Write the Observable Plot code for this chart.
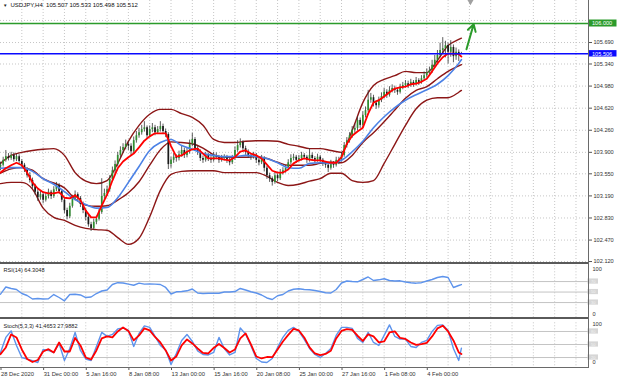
<!DOCTYPE html>
<html><head><meta charset="utf-8">
<script src="https://cdn.jsdelivr.net/npm/d3@7"></script>
<script src="https://cdn.jsdelivr.net/npm/@observablehq/plot@0.6"></script>
<style>
body{margin:0;background:#fff;}
#chart{position:relative;width:620px;height:382px;overflow:hidden;background:#fff;}
#chart svg{position:absolute;left:0;}
.chrome{position:absolute;}
</style></head><body><div id="chart"></div>
<script>
// ---------- DATA ----------
const symbol = "USDJPY,H4";
const ohlcNow = [105.507, 105.533, 105.498, 105.512];
const rsiNow = 64.3048;
const stochNow = [41.4653, 27.9882];
const hLevels = [106.000, 105.506];
const priceTicks = [102.12, 102.47, 102.83, 103.19, 103.55, 103.90, 104.26, 104.62, 104.98, 105.34, 105.69, 106.05];
const priceLabelTicks = [102.12, 102.47, 102.83, 103.19, 103.55, 103.90, 104.26, 104.62, 104.98, 105.34, 105.69];
const tickBars = [0, 16, 32, 48, 64, 80, 96, 112, 128, 144, 160];
const tickLabels = ["28 Dec 2020", "31 Dec 00:00", "5 Jan 16:00", "8 Jan 08:00", "13 Jan 00:00", "15 Jan 16:00", "20 Jan 08:00", "25 Jan 00:00", "27 Jan 16:00", "1 Feb 08:00", "4 Feb 00:00"];
const rsiLevels = [70, 50, 30];
const stochLevels = [80, 50, 20];
const arrowPts = {x1: 174.9, y1: 105.58, x2: 177.6, y2: 105.99};
const shiftBar = 176.4;

const open = [103.66,103.69,103.77,103.83,103.80,103.85,103.78,103.83,103.75,103.69,
103.62,103.52,103.44,103.34,103.25,103.16,103.21,103.12,103.18,103.25,
103.18,103.29,103.36,103.26,103.12,102.95,102.85,103.02,103.15,103.21,
103.15,103.05,102.95,102.84,102.72,102.66,102.76,102.81,102.92,103.18,
103.23,103.29,103.46,103.60,103.70,103.85,103.93,103.98,104.03,104.00,
103.91,104.09,104.17,104.22,104.27,104.30,104.17,104.27,104.30,104.22,
104.27,104.32,104.24,104.19,103.70,103.77,103.82,103.80,103.86,103.93,
103.85,103.91,104.03,104.11,103.96,103.90,103.80,103.77,103.85,103.80,
103.77,103.85,103.82,103.77,103.80,103.82,103.77,103.73,103.80,103.93,
104.01,104.06,103.96,103.90,103.85,103.82,103.85,103.77,103.73,103.80,
103.64,103.52,103.47,103.41,103.52,103.47,103.57,103.60,103.64,103.73,
103.80,103.82,103.77,103.80,103.85,103.82,103.77,103.85,103.80,103.77,
103.82,103.77,103.72,103.69,103.64,103.72,103.69,103.77,103.77,103.85,
104.01,104.09,104.17,104.26,104.29,104.42,104.34,104.50,104.58,104.75,
104.79,104.70,104.66,104.75,104.81,104.88,104.83,104.91,104.94,104.91,
104.88,104.96,104.99,105.02,104.99,105.04,105.01,105.07,105.04,105.10,
105.15,105.20,105.23,105.32,105.40,105.48,105.56,105.59,105.64,105.53,
105.61,105.46,105.53,105.51];
const high = [103.74,103.82,103.93,103.88,103.90,103.89,103.87,103.86,103.78,103.72,
103.65,103.57,103.48,103.38,103.29,103.27,103.25,103.24,103.30,103.28,
103.34,103.41,103.39,103.29,103.15,102.99,103.07,103.20,103.27,103.24,
103.18,103.09,102.98,102.88,102.76,102.81,102.86,102.97,103.47,103.30,
103.35,103.52,103.66,103.76,103.90,103.99,104.04,104.10,104.08,104.04,
104.15,104.24,104.29,104.34,104.40,104.33,104.33,104.37,104.34,104.32,
104.40,104.36,104.28,104.22,103.82,103.88,103.86,103.92,104.00,103.97,
103.97,104.10,104.21,104.14,104.00,103.94,103.84,103.90,103.88,103.84,
103.90,103.89,103.85,103.85,103.86,103.85,103.80,103.85,103.99,104.09,
104.12,104.09,104.00,103.94,103.88,103.90,103.88,103.80,103.85,103.83,
103.67,103.56,103.50,103.57,103.55,103.62,103.65,103.69,103.78,103.86,
103.87,103.85,103.85,103.90,103.88,103.85,103.96,103.89,103.83,103.87,
103.85,103.80,103.75,103.72,103.77,103.75,103.82,103.82,103.90,104.06,
104.14,104.22,104.32,104.36,104.48,104.46,104.56,104.64,104.91,104.86,
104.83,104.74,104.80,104.87,104.94,104.92,104.97,105.00,104.98,104.95,
105.01,105.04,105.07,105.06,105.09,105.07,105.12,105.10,105.15,105.21,
105.26,105.29,105.40,105.48,105.56,105.68,105.77,105.71,105.68,105.72,
105.65,105.60,105.57,105.53];
const low = [103.60,103.66,103.74,103.76,103.77,103.74,103.75,103.71,103.64,103.57,
103.48,103.40,103.30,103.20,103.10,103.12,103.06,103.09,103.14,103.13,
103.15,103.26,103.22,103.08,102.90,102.80,102.82,102.99,103.11,103.10,
103.00,102.90,102.78,102.68,102.61,102.63,102.72,102.78,102.89,103.12,
103.18,103.25,103.42,103.55,103.66,103.81,103.88,103.94,103.93,103.84,
103.88,104.05,104.13,104.18,104.23,104.12,104.14,104.22,104.17,104.19,
104.23,104.19,104.14,103.62,103.64,103.72,103.74,103.76,103.82,103.80,
103.81,103.87,103.99,103.92,103.85,103.75,103.72,103.74,103.75,103.72,
103.74,103.78,103.72,103.74,103.76,103.72,103.68,103.70,103.77,103.90,
103.97,103.92,103.85,103.80,103.77,103.79,103.72,103.68,103.70,103.58,
103.46,103.41,103.35,103.38,103.42,103.44,103.53,103.56,103.61,103.70,
103.76,103.72,103.74,103.76,103.78,103.72,103.74,103.75,103.72,103.74,
103.72,103.67,103.64,103.57,103.61,103.64,103.66,103.70,103.74,103.82,
103.97,104.05,104.13,104.21,104.25,104.29,104.30,104.46,104.55,104.70,
104.64,104.60,104.62,104.71,104.77,104.78,104.80,104.87,104.86,104.83,
104.85,104.92,104.95,104.94,104.96,104.96,104.98,104.99,105.01,105.06,
105.11,105.16,105.19,105.28,105.36,105.44,105.50,105.44,105.34,105.45,
105.36,105.40,105.38,105.50];
const close = [103.69,103.77,103.83,103.80,103.85,103.78,103.83,103.75,103.69,103.62,
103.52,103.44,103.34,103.25,103.16,103.21,103.12,103.18,103.25,103.18,
103.29,103.36,103.26,103.12,102.95,102.85,103.02,103.15,103.21,103.15,
103.05,102.95,102.84,102.72,102.66,102.76,102.81,102.92,103.18,103.23,
103.29,103.46,103.60,103.70,103.85,103.93,103.98,104.03,104.00,103.91,
104.09,104.17,104.22,104.27,104.30,104.17,104.27,104.30,104.22,104.27,
104.32,104.24,104.19,103.70,103.77,103.82,103.80,103.86,103.93,103.85,
103.91,104.03,104.11,103.96,103.90,103.80,103.77,103.85,103.80,103.77,
103.85,103.82,103.77,103.80,103.82,103.77,103.73,103.80,103.93,104.01,
104.06,103.96,103.90,103.85,103.82,103.85,103.77,103.73,103.80,103.64,
103.52,103.47,103.41,103.52,103.47,103.57,103.60,103.64,103.73,103.80,
103.82,103.77,103.80,103.85,103.82,103.77,103.85,103.80,103.77,103.82,
103.77,103.72,103.69,103.64,103.72,103.69,103.77,103.77,103.85,104.01,
104.09,104.17,104.26,104.29,104.42,104.34,104.50,104.58,104.75,104.79,
104.70,104.66,104.75,104.81,104.88,104.83,104.91,104.94,104.91,104.88,
104.96,104.99,105.02,104.99,105.04,105.01,105.07,105.04,105.10,105.15,
105.20,105.23,105.32,105.40,105.48,105.56,105.59,105.64,105.53,105.61,
105.46,105.53,105.51,105.51];

// fast MA (red), RSI and Stochastic sampled every 2 bars
const oscIdx = [0,2,4,6,8,10,12,14,16,18,20,22,24,26,28,30,32,34,36,38,40,42,44,46,48,50,52,54,56,58,60,62,64,66,68,70,72,74,76,78,80,82,84,86,88,90,92,94,96,98,100,102,104,106,108,110,112,114,116,118,120,122,124,126,128,130,132,134,136,138,140,142,144,146,148,150,152,154,156,158,160,162,164,166,168,170,172,173];
const redMA = [103.57,103.64,103.69,103.73,103.69,103.57,103.41,103.31,103.25,103.23,
103.23,103.25,103.16,103.15,103.20,103.12,102.95,102.84,102.84,103.03,
103.21,103.44,103.64,103.75,103.82,103.88,103.98,104.09,104.16,104.21,
104.21,104.21,104.00,103.83,103.85,103.91,103.95,103.96,103.88,103.80,
103.80,103.80,103.78,103.77,103.82,103.91,103.93,103.88,103.85,103.80,
103.70,103.60,103.57,103.57,103.62,103.72,103.77,103.80,103.78,103.77,
103.77,103.75,103.73,103.73,103.82,104.04,104.17,104.24,104.30,104.53,
104.71,104.75,104.81,104.88,104.94,104.96,104.97,105.01,105.02,105.05,
105.10,105.22,105.35,105.45,105.51,105.51,105.50,105.46];
const rsi = [45.9,59.6,56.8,54.9,47.2,43.4,36.8,37.7,36.8,37.1,
45.3,39.6,33.3,45.3,45.9,44.4,39.6,40.6,47.2,52.0,
53.9,64.4,67.8,67.2,65.0,63.0,66.9,65.0,65.3,65.0,
64.4,58.7,46.3,50.5,51.0,52.4,55.8,48.2,47.2,47.8,
47.8,47.8,50.1,50.1,51.0,56.8,53.9,50.5,48.2,44.4,
38.7,35.8,42.9,45.3,52.0,55.4,56.2,54.9,54.3,53.0,
51.0,48.6,48.2,54.9,67.2,71.0,70.1,69.5,73.9,78.7,
72.0,73.3,75.4,72.0,71.0,71.4,69.1,67.6,66.9,67.8,
71.0,73.9,77.7,79.6,77.7,58.7,62.5,64.3];
const stochMain = [31.6,66.3,81.3,47.8,20.1,16.2,12.5,8.5,38.6,36.3,
31.6,52.4,13.2,40.9,77.8,36.3,16.6,13.2,45.5,77.8,
68.6,73.2,85.9,88.2,82.4,45.5,75.5,92.8,89.4,68.6,
47.8,37.4,3.9,29.3,59.4,73.2,57.0,35.1,27.0,25.9,
31.6,66.3,40.9,25.9,31.6,88.2,73.9,47.1,17.8,9.7,
8.5,17.8,43.2,66.3,82.4,89.4,80.1,61.7,40.9,27.0,
20.1,29.3,40.9,70.9,89.4,89.4,87.1,64.0,54.7,77.8,
54.7,47.8,70.9,95.2,68.6,62.4,62.4,45.5,43.2,54.7,
59.4,80.1,94.0,95.2,82.4,40.9,13.2,41.47];
const stochSignal = [27.7,43.2,73.2,66.3,38.6,16.6,9.7,14.3,33.9,39.3,
31.6,54.7,33.9,33.9,65.1,47.8,20.1,15.5,36.3,64.0,
68.6,66.3,80.1,89.4,81.3,59.4,70.9,87.1,82.4,67.4,
54.7,36.3,13.2,22.4,47.8,61.7,52.4,40.9,30.5,29.3,
42.0,51.3,42.0,31.6,38.6,64.0,75.5,50.1,22.4,17.8,
21.2,20.8,38.6,57.0,72.1,85.9,82.4,66.3,43.2,29.3,
25.4,28.2,35.6,64.0,81.3,85.5,83.6,70.2,58.2,73.2,
68.6,54.7,57.0,77.8,80.1,65.1,62.8,54.7,49.0,50.8,
53.6,68.6,87.1,93.3,80.1,59.4,31.6,27.99];

// slower MA (blue) and Bollinger bands sampled every 4 bars
const bandIdx = [0,4,8,12,16,20,24,28,32,36,40,44,48,52,56,60,64,68,72,76,80,84,88,92,96,100,104,108,112,116,120,124,128,132,136,140,144,148,152,156,160,164,168,172,173];
const blueMA = [103.64,103.65,103.65,103.59,103.47,103.38,103.26,103.13,103.05,102.99,
103.00,103.16,103.41,103.67,103.93,104.06,104.11,104.01,103.95,103.88,
103.85,103.83,103.83,103.85,103.83,103.80,103.73,103.65,103.64,103.72,
103.73,103.72,103.77,103.91,104.08,104.30,104.48,104.63,104.75,104.84,
104.92,105.01,105.15,105.35,105.41];
const bbUpper = [103.72,103.85,103.90,103.93,103.95,103.96,103.85,103.57,103.43,103.39,
103.44,103.72,104.08,104.34,104.52,104.60,104.60,104.53,104.47,104.34,
104.11,104.06,104.06,104.08,104.09,104.09,104.08,104.03,104.00,103.96,
103.96,103.93,103.90,104.26,104.71,104.99,105.09,105.15,105.22,105.20,
105.20,105.40,105.64,105.74,105.76];
const bbMiddle = [103.56,103.63,103.65,103.61,103.47,103.40,103.32,103.14,103.04,103.02,
103.03,103.12,103.24,103.42,103.69,103.94,104.07,104.06,104.04,103.97,
103.86,103.82,103.82,103.82,103.83,103.80,103.74,103.69,103.69,103.69,
103.72,103.74,103.73,103.85,104.06,104.22,104.40,104.59,104.78,104.91,
104.97,105.10,105.22,105.31,105.33];
const bbLower = [103.39,103.41,103.41,103.30,102.99,102.84,102.79,102.71,102.66,102.64,
102.63,102.51,102.40,102.50,102.85,103.28,103.54,103.59,103.60,103.60,
103.60,103.57,103.57,103.57,103.57,103.51,103.41,103.36,103.38,103.43,
103.47,103.56,103.56,103.44,103.41,103.44,103.72,104.03,104.34,104.61,
104.75,104.79,104.79,104.88,104.91];

// ---------- BUILD ----------
const FONT = "'Liberation Sans', Arial, sans-serif";
const X_DOMAIN = [0, 220.7];
const X_END = X_DOMAIN[1];
const GRID = {stroke: "#c6c6c6", strokeOpacity: 1, strokeDasharray: "1,2", strokeWidth: 1};
const gridBars = d3.range(8, 220, 8);
const GREEN = "#2b9b2b", BLUE = "#0a0aff", DARKRED = "#8c1616", MA_BLUE = "#4c82e6", OSC_BLUE = "#5d93ec";
const f3 = d3.format(".3f");

const bars = close.map((c, i) => ({i, o: open[i], h: high[i], l: low[i], c}));
const redData = oscIdx.map((i, k) => ({i, v: redMA[k]}));
const bandData = bandIdx.map((i, k) => ({i, up: bbUpper[k], mid: bbMiddle[k], lo: bbLower[k], blue: blueMA[k]}));
const oscData = oscIdx.map((i, k) => ({i, rsi: rsi[k], k: stochMain[k], d: stochSignal[k]}));
const titleText = symbol + "  " + ohlcNow.map(f3).join(" ");
const labelOf = new Map(tickBars.map((b, k) => [b, tickLabels[k]]));

const baseStyle = {fontFamily: FONT, fontSize: "5.5px", background: "none", overflow: "visible", color: "#222"};

const mainPlot = Plot.plot({
  width: 620, height: 263, marginTop: 0, marginBottom: 0, marginLeft: 0, marginRight: 32,
  style: baseStyle,
  x: {domain: X_DOMAIN, axis: null},
  y: {domain: [102.088, 106.375], axis: null},
  marks: [
    Plot.gridX(gridBars, GRID),
    Plot.gridY(priceTicks, GRID),
    Plot.axisY(priceLabelTicks, {anchor: "right", label: null, tickFormat: f3, tickSize: 3, tickPadding: 2, fontSize: 5.6, fill: "#333", stroke: "#555"}),
    Plot.line(bandData, {x: "i", y: "up", stroke: DARKRED, strokeWidth: 1.4, curve: "monotone-x"}),
    Plot.line(bandData, {x: "i", y: "lo", stroke: DARKRED, strokeWidth: 1.4, curve: "monotone-x"}),
    Plot.line(bandData, {x: "i", y: "mid", stroke: DARKRED, strokeWidth: 1.4, curve: "monotone-x"}),
    Plot.ruleX(bars, {x: "i", y1: "l", y2: "h", stroke: "#333", strokeWidth: 0.8}),
    Plot.ruleX(bars, {filter: d => d.c >= d.o, x: "i", y1: "o", y2: "c", stroke: "#2f8f2f", strokeWidth: 1.7}),
    Plot.ruleX(bars, {filter: d => d.c < d.o, x: "i", y1: "o", y2: "c", stroke: "#1a1a1a", strokeWidth: 1.7}),
    Plot.line(bandData, {x: "i", y: "blue", stroke: MA_BLUE, strokeWidth: 1.6, curve: "monotone-x"}),
    Plot.line(redData, {x: "i", y: "v", stroke: "#ff0000", strokeWidth: 1.8}),
    Plot.ruleY([hLevels[0]], {stroke: GREEN, strokeWidth: 1.4}),
    Plot.ruleY([hLevels[1]], {stroke: BLUE, strokeWidth: 1.4}),
    Plot.rect([hLevels[0]], {x1: () => X_END, x2: () => X_END, y1: d => d, y2: d => d, insetLeft: 0.5, insetRight: -28.5, insetTop: -3.5, insetBottom: -3.5, fill: GREEN}),
    Plot.rect([hLevels[1]], {x1: () => X_END, x2: () => X_END, y1: d => d, y2: d => d, insetLeft: 0.5, insetRight: -28.5, insetTop: -3.2, insetBottom: -3.2, fill: BLUE}),
    Plot.text(hLevels, {x: () => X_END, y: d => d, text: d => f3(d), dx: 3.5, textAnchor: "start", fill: "white", fontSize: 5.6}),
    Plot.arrow([arrowPts], {x1: "x1", y1: "y1", x2: "x2", y2: "y2", stroke: GREEN, strokeWidth: 2, headLength: 6}),
    Plot.dot([shiftBar], {x: d => d, frameAnchor: "top", symbol: "triangle", rotate: 180, r: 2.4, fill: "#a0a0a0", stroke: "none", dy: 1}),
    Plot.text(["\u25BC"], {text: d => d, frameAnchor: "top-left", dx: 2.5, dy: 3, lineAnchor: "top", textAnchor: "start", fontSize: 4.5, fill: "#222"}),
    Plot.text([titleText], {text: d => d, frameAnchor: "top-left", dx: 10, dy: 2.4, lineAnchor: "top", textAnchor: "start", fontSize: 6, fill: "#111"})
  ]
});

const rsiPlot = Plot.plot({
  width: 620, height: 55, marginTop: 2.3, marginBottom: 0.2, marginLeft: 0, marginRight: 32,
  style: baseStyle,
  x: {domain: X_DOMAIN, axis: null},
  y: {domain: [0, 100], axis: null},
  marks: [
    Plot.gridX(gridBars, GRID),
    Plot.ruleY(rsiLevels, {stroke: "#c4c4c4", strokeWidth: 1}),
    Plot.line(oscData, {x: "i", y: "rsi", stroke: OSC_BLUE, strokeWidth: 1.4}),
    Plot.text(["RSI(14) " + rsiNow.toFixed(4)], {text: d => d, frameAnchor: "top-left", dx: 3, dy: 1.8, lineAnchor: "top", textAnchor: "start", fontSize: 5.6, fill: "#222"}),
    Plot.text([100], {x: () => X_END, y: d => d, text: d => String(d), dx: 4, dy: 3.4, textAnchor: "start", fontSize: 5.6, fill: "#333"}),
    Plot.text([0], {x: () => X_END, y: d => d, text: d => String(d), dx: 4, dy: -4.5, textAnchor: "start", fontSize: 5.6, fill: "#333"}),
    Plot.rect(rsiLevels, {x1: () => X_END, x2: () => X_END, y1: d => d, y2: d => d, insetLeft: -0.5, insetRight: -10, insetTop: -2.6, insetBottom: -2.6, fill: "#d6d6d6"}),
    Plot.text(rsiLevels, {x: () => X_END, y: d => d, text: d => String(d), dx: 2.5, textAnchor: "start", fontSize: 4, fill: "#f2f2f2"})
  ]
});

const stochPlot = Plot.plot({
  width: 620, height: 64, marginTop: 4.3, marginBottom: 15, marginLeft: 0, marginRight: 32,
  style: baseStyle,
  x: {domain: X_DOMAIN, axis: null},
  y: {domain: [-3, 100], axis: null},
  marks: [
    Plot.gridX(gridBars, GRID),
    Plot.ruleY(stochLevels, {stroke: "#c4c4c4", strokeWidth: 1}),
    Plot.line(oscData, {x: "i", y: "k", stroke: OSC_BLUE, strokeWidth: 1.4}),
    Plot.line(oscData, {x: "i", y: "d", stroke: "#ff0000", strokeWidth: 1.8}),
    Plot.text(["Stoch(5,3,3) " + stochNow.map(v => v.toFixed(4)).join(" ")], {text: d => d, frameAnchor: "top-left", dx: 3, dy: 0.8, lineAnchor: "top", textAnchor: "start", fontSize: 5.6, fill: "#222"}),
    Plot.text([100], {x: () => X_END, y: d => d, text: d => String(d), dx: 4, dy: 1.4, textAnchor: "start", fontSize: 5.6, fill: "#333"}),
    Plot.text([0], {x: () => X_END, y: d => d, text: d => String(d), dx: 4, dy: -3.7, textAnchor: "start", fontSize: 5.6, fill: "#333"}),
    Plot.rect(stochLevels, {x1: () => X_END, x2: () => X_END, y1: d => d, y2: d => d, insetLeft: -0.5, insetRight: -10, insetTop: -2.6, insetBottom: -2.6, fill: "#d6d6d6"}),
    Plot.text(stochLevels, {x: () => X_END, y: d => d, text: d => String(d), dx: 2.5, textAnchor: "start", fontSize: 4, fill: "#f2f2f2"}),
    Plot.axisX(tickBars, {anchor: "bottom", label: null, tickFormat: d => labelOf.get(d), tickSize: 3, tickPadding: 1.5, textAnchor: "start", dx: 0.5, fontSize: 5.8, fill: "#333", stroke: "#555"})
  ]
});

const chart = document.getElementById("chart");
function place(svg, top) { svg.style.top = top + "px"; chart.appendChild(svg); }
place(mainPlot, 0);
place(rsiPlot, 263);
place(stochPlot, 318);
function chrome(x, y, w, h, color) {
  const d = document.createElement("div");
  d.className = "chrome";
  Object.assign(d.style, {left: x + "px", top: y + "px", width: w + "px", height: h + "px", background: color});
  chart.appendChild(d);
}
chrome(0, 262.3, 589, 2.2, "#5a5a5a");
chrome(0, 316.8, 589, 2.2, "#5a5a5a");
chrome(588, 0, 1.2, 368, "#6a6a6a");
chrome(0, 367, 589, 1.2, "#6a6a6a");
</script>
</body></html>
